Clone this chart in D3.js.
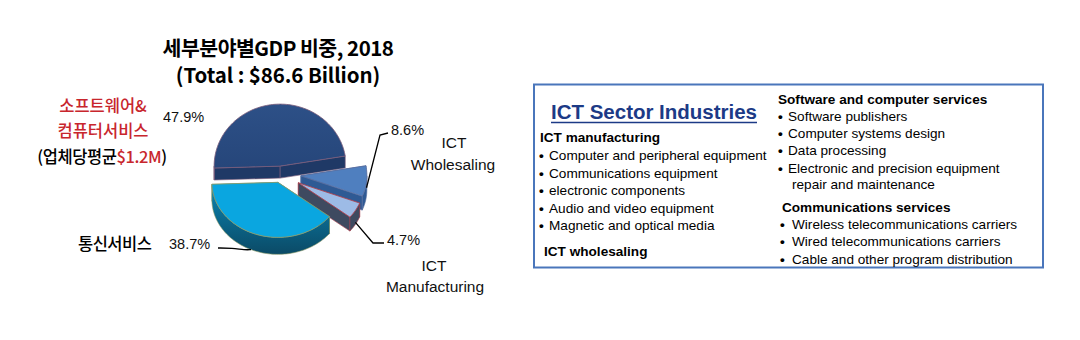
<!DOCTYPE html>
<html><head><meta charset="utf-8">
<script src="https://cdn.jsdelivr.net/npm/d3@7"></script>
<style>body{margin:0;background:#fff}svg{display:block}</style>
</head><body>
<script>
// ---------------- data ----------------
const sectors = ["소프트웨어&컴퓨터서비스", "ICT Wholesaling", "ICT Manufacturing", "통신서비스"];
const shares = [47.9, 8.6, 4.7, 38.7];
const shareLabels = ["47.9%", "8.6%", "4.7%", "38.7%"];
const titleLines = ["세부분야별GDP 비중, 2018", "(Total : $86.6 Billion)"];
const boxTitle = "ICT Sector Industries";
const leftHeads = ["ICT manufacturing", "ICT wholesaling"];
const leftItems = ["Computer and peripheral equipment", "Communications equipment", "electronic components", "Audio and video equipment", "Magnetic and optical media"];
const rightHeads = ["Software and computer services", "Communications services"];
const rightItems1 = ["Software publishers", "Computer systems design", "Data processing", "Electronic and precision equipment"];
const rightItems1b = "repair and maintenance";
const rightItems2 = ["Wireless telecommunications carriers", "Wired telecommunications carriers", "Cable and other program distribution"];

// ---------------- setup ----------------
const W = 1080, H = 340;
const svg = d3.select("body").append("svg").attr("width", W).attr("height", H);
const defs = svg.append("defs");
const g1 = defs.append("linearGradient").attr("id","commWall").attr("x1",0).attr("y1",0).attr("x2",0).attr("y2",1);
g1.append("stop").attr("offset","0%").attr("stop-color","#0a86b3");
g1.append("stop").attr("offset","100%").attr("stop-color","#0b4a66");
const g2 = defs.append("linearGradient").attr("id","swTop").attr("x1",0).attr("y1",0).attr("x2",0).attr("y2",1);
g2.append("stop").attr("offset","0%").attr("stop-color","#2d5087");
g2.append("stop").attr("offset","100%").attr("stop-color","#26467a");

const KR = "'Noto Sans CJK KR', 'Noto Sans', sans-serif";
const LAT = "'Liberation Sans', Arial, sans-serif";

// pie via d3.pie
const cx = 281, cy = 174, rx = 66, ryBack = 62, ryFront = 55;
const depths = [12, 14, 14, 17];
const startA = -92 * Math.PI / 180;
const pie = d3.pie().sort(null).value(d => d).startAngle(startA).endAngle(startA + 2 * Math.PI);
const arcs = pie(shares);
const explode = [9, 20, 20, 10];
const topColor = ["url(#swTop)", "#4f7fbf", "#9dbbe6", "#0aa6e0"];
const wallColor = ["#1f3966", "#2f5a94", "#3e4a60", "url(#commWall)"];
const strokeColor = ["#7a5a78", "#5a6fa0", "#a8404e", "#8c9a66"];

function P(a, k, z, o) {
  const c = Math.cos(a);
  const ry = c > 0 ? ryBack : ryFront;
  return [cx + o[0] + rx * k * Math.sin(a), cy + o[1] - ry * k * c + z];
}
function arcPts(a0, a1, z, o) {
  const n = Math.max(2, Math.ceil(Math.abs(a1 - a0) / 0.03));
  const pts = [];
  for (let i = 0; i <= n; i++) pts.push(P(a0 + (a1 - a0) * i / n, 1, z, o));
  return pts;
}
const line = d3.line();
const gPie = svg.append("g");
const anchors = [];
[0, 1, 2, 3].forEach(i => {
  const d = arcs[i];
  const depth = depths[i];
  const m = (d.startAngle + d.endAngle) / 2;
  const o = [explode[i] * Math.sin(m), -explode[i] * Math.cos(m) * 0.88];
  const g = gPie.append("g");
  const apex = P(0, 0, 0, o), apexB = P(0, 0, depth, o);
  [d.startAngle, d.endAngle].forEach(a => {
    g.append("path").attr("d", line([apex, P(a,1,0,o), P(a,1,depth,o), apexB]) + "Z")
      .attr("fill", wallColor[i]).attr("stroke", strokeColor[i]).attr("stroke-width", 0.6);
  });
  [[Math.PI/2, 3*Math.PI/2], [Math.PI/2 - 2*Math.PI, 3*Math.PI/2 - 2*Math.PI], [Math.PI/2 + 2*Math.PI, 3*Math.PI/2 + 2*Math.PI]].forEach(([v0, v1]) => {
    const b0 = Math.max(d.startAngle, v0), b1 = Math.min(d.endAngle, v1);
    if (b1 > b0) {
      const pts = arcPts(b0, b1, 0, o).concat(arcPts(b1, b0, depth, o));
      g.append("path").attr("d", line(pts) + "Z").attr("fill", wallColor[i])
        .attr("stroke", strokeColor[i]).attr("stroke-width", 0.6);
    }
  });
  const tp = [apex].concat(arcPts(d.startAngle, d.endAngle, 0, o));
  g.append("path").attr("d", line(tp) + "Z").attr("fill", topColor[i])
    .attr("stroke", strokeColor[i]).attr("stroke-width", 0.8);
  anchors[i] = { m, o, depth };
});

// ---------------- leader lines ----------------
const ll = svg.append("g").attr("fill", "none").attr("stroke", "#000").attr("stroke-width", 1.3);
{ const a = anchors[1]; const p = P(a.m, 1, 6, a.o);
  ll.append("path").attr("d", line([p, [380, 135], [388, 133]])); }
{ const a = anchors[2]; const p = P(a.m, 1, 12, a.o);
  ll.append("path").attr("d", line([p, [373, 243], [384, 243]])); }
{ const a = anchors[3]; const p = P(a.m + 0.1, 1, a.depth, a.o);
  ll.append("path").attr("d", d3.line().curve(d3.curveBasis)([[218, 248], [232, 248], [245, 250], p])); }

// ---------------- texts (pie side) ----------------
const t = svg.append("g");
t.append("text").attr("x", 278).attr("y", 56).attr("text-anchor", "middle")
  .attr("font-family", KR).attr("font-weight", 700).attr("font-size", 20.5).attr("letter-spacing", -0.5).text(titleLines[0]);
t.append("text").attr("x", 278).attr("y", 83).attr("text-anchor", "middle")
  .attr("font-family", KR).attr("font-weight", 700).attr("font-size", 20.5).attr("letter-spacing", -0.1).text(titleLines[1]);

const red = "#c8262d";
const swName = sectors[0].split("&");
t.append("text").attr("x", 103).attr("y", 112).attr("text-anchor", "middle").attr("font-family", KR)
  .attr("font-size", 16.5).attr("font-weight", 500).attr("fill", red).text(swName[0] + "&");
t.append("text").attr("x", 103).attr("y", 137).attr("text-anchor", "middle").attr("font-family", KR)
  .attr("font-size", 16.5).attr("font-weight", 500).attr("fill", red).text(swName[1]);
const avg = t.append("text").attr("x", 102).attr("y", 163).attr("text-anchor", "middle").attr("font-family", KR)
  .attr("font-size", 16.5).attr("font-weight", 500).attr("letter-spacing", -0.4);
avg.append("tspan").attr("fill", "#000").text("(업체당평균");
avg.append("tspan").attr("fill", red).text("$1.2M");
avg.append("tspan").attr("fill", "#000").text(")");

t.append("text").attr("x", 78).attr("y", 250).attr("font-family", KR).attr("font-size", 16.5)
  .attr("font-weight", 500).attr("letter-spacing", -0.5).text(sectors[3]);

const pf = { "font-family": LAT, "font-size": 14.5, "fill": "#111" };
function txt(x, y, s, anchor) {
  const e = t.append("text").attr("x", x).attr("y", y).attr("text-anchor", anchor || "start").text(s);
  Object.entries(pf).forEach(([k, v]) => e.attr(k, v));
  return e;
}
txt(163, 122, shareLabels[0]);
txt(391, 135, shareLabels[1]);
txt(387, 245, shareLabels[2]);
txt(169, 249, shareLabels[3]);
const wh = sectors[1].split(" ");
txt(454, 148, wh[0], "middle").attr("font-size", 15.5);
txt(453, 170, wh[1], "middle").attr("font-size", 15.5);
const mf = sectors[2].split(" ");
txt(434, 271, mf[0], "middle").attr("font-size", 15.5);
txt(435, 292, mf[1], "middle").attr("font-size", 15.5);

// ---------------- right box ----------------
const bx = svg.append("g");
bx.append("rect").attr("x", 534).attr("y", 84.5).attr("width", 509).attr("height", 183)
  .attr("fill", "#fff").attr("stroke", "#4a76bb").attr("stroke-width", 2);
bx.append("text").attr("x", 551).attr("y", 119).attr("font-family", LAT).attr("font-weight", 700)
  .attr("font-size", 20).attr("textLength", 206).attr("lengthAdjust", "spacingAndGlyphs")
  .attr("fill", "#1c3a86").text(boxTitle);
bx.append("line").attr("x1", 551).attr("x2", 757).attr("y1", 122.5).attr("y2", 122.5)
  .attr("stroke", "#1c3a86").attr("stroke-width", 1.6);

function boxText(x, y, s, bold, size) {
  return bx.append("text").attr("x", x).attr("y", y).attr("font-family", LAT)
    .attr("font-size", size || 13.6).attr("font-weight", bold ? 700 : 400).attr("fill", "#000").text(s);
}
function bullet(x, y, s, gap) {
  boxText(x, y, "•", true, 13.5);
  boxText(x + (gap || 10), y, s, false);
}
boxText(540, 142, leftHeads[0], true);
leftItems.forEach((s, i) => bullet(539, 160 + i * 17.5, s));
boxText(544, 256, leftHeads[1], true);

boxText(778, 104, rightHeads[0], true);
rightItems1.forEach((s, i) => bullet(778, 121 + i * 17.2, s));
boxText(792, 189, rightItems1b, false);
boxText(782, 212, rightHeads[1], true);
rightItems2.forEach((s, i) => bullet(780, 229 + i * 17.3, s, 12));
</script>
</body></html>
